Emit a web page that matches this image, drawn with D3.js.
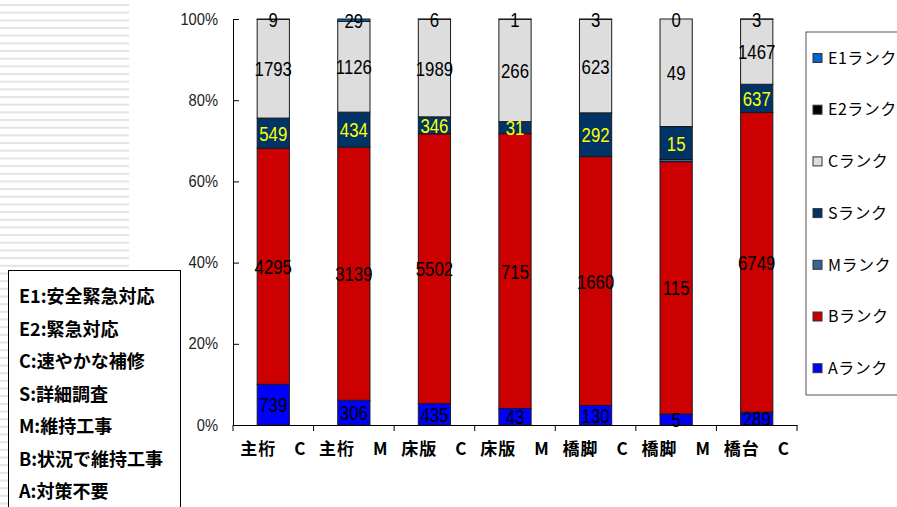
<!DOCTYPE html>
<html>
<head>
<meta charset="utf-8">
<script src="https://cdn.jsdelivr.net/npm/d3@7"></script>
<style>
  html, body { margin: 0; padding: 0; background: #fff; }
  svg { display: block; }
</style>
</head>
<body>
<svg id="chart" width="897" height="507"></svg>
<script>
// Rank counts per member / inspection type
const categories = ["主桁　C", "主桁　M", "床版　C", "床版　M", "橋脚　C", "橋脚　M", "橋台　C"];
const rankA  = [739, 306, 435, 43, 130, 5, 289];
const rankB  = [4295, 3139, 5502, 715, 1660, 115, 6749];
const rankM  = [0, 0, 0, 0, 0, 1, 0];
const rankS  = [549, 434, 346, 31, 292, 15, 637];
const rankC  = [1793, 1126, 1989, 266, 623, 49, 1467];
const rankE2 = [0, 0, 6, 0, 3, 0, 0];
const rankE1 = [9, 29, 0, 1, 0, 0, 3];
const yTicks = [0, 0.2, 0.4, 0.6, 0.8, 1.0];

const seriesKeys   = ["A", "B", "M", "S", "C", "E2", "E1"];
const seriesValues = { A: rankA, B: rankB, M: rankM, S: rankS, C: rankC, E2: rankE2, E1: rankE1 };
const seriesColors = { A: "#0000ff", B: "#cc0000", M: "#336699", S: "#003366", C: "#dddddd", E2: "#000000", E1: "#0066cc" };
const legendOrder  = ["E1", "E2", "C", "S", "M", "B", "A"];
const notes = ["E1:安全緊急対応", "E2:緊急対応", "C:速やかな補修", "S:詳細調査", "M:維持工事", "B:状況で維持工事", "A:対策不要"];

const rows = categories.map((c, i) => {
  const r = { cat: c };
  seriesKeys.forEach(k => r[k] = seriesValues[k][i]);
  return r;
});

const svg = d3.select("#chart");
const numFont = "'Liberation Sans', Arial, sans-serif";
const jpFont = "'Noto Sans CJK JP', sans-serif";

// striped backdrop on the left
const stripes = svg.append("g");
d3.range(4, 507, 7.67).forEach(y => {
  stripes.append("rect").attr("x", 0).attr("y", y).attr("width", 129).attr("height", 2).attr("fill", "#e4e4e4");
});

const plot = { left: 233, right: 797, top: 19, bottom: 425 };

const x = d3.scaleBand().domain(categories).range([plot.left, plot.right]).paddingInner(0.6).paddingOuter(0.3);
const y = d3.scaleLinear().domain([0, 1]).range([plot.bottom, plot.top]);

const stack = d3.stack().keys(seriesKeys).offset(d3.stackOffsetExpand);
const layers = stack(rows);

// bars
const g = svg.append("g");
layers.forEach(layer => {
  g.selectAll(null).data(layer).enter().append("rect")
    .attr("x", d => x(d.data.cat))
    .attr("width", x.bandwidth())
    .attr("y", d => y(d[1]))
    .attr("height", d => Math.max(0, y(d[0]) - y(d[1])))
    .attr("fill", seriesColors[layer.key])
    .attr("stroke", "#1a1a1a")
    .attr("stroke-width", 1);
});

// axes
const yAxis = d3.axisLeft(y).tickValues(yTicks).tickFormat(d3.format(".0%")).tickSizeInner(-6).tickSizeOuter(0).tickPadding(15);
const yg = svg.append("g").attr("transform", `translate(${plot.left},0)`).call(yAxis);
yg.selectAll("text").attr("font-family", numFont).attr("font-size", 16).attr("fill", "#222")
  .attr("transform", "scale(0.92,1)").attr("x", -15 / 0.92);
yg.selectAll("line, path").attr("stroke", "#000");

const xAxis = d3.axisBottom(x).tickSize(0).tickPadding(18);
const xg = svg.append("g").attr("transform", `translate(0,${plot.bottom})`).call(xAxis);
xg.select("path").attr("stroke", "#000");
xg.selectAll("text").attr("font-family", jpFont).attr("font-size", 17).attr("font-weight", "bold")
  .attr("letter-spacing", 1).attr("fill", "#000");
// band boundary ticks
d3.range(0, categories.length + 1).forEach(i => {
  const px = plot.left + i * (plot.right - plot.left) / categories.length;
  xg.append("line").attr("x1", px).attr("x2", px).attr("y1", 0).attr("y2", 6).attr("stroke", "#000");
});

// narrow value label helper
function valueLabel(cx, cy, text, color) {
  g.append("text")
    .attr("transform", `translate(${cx},${cy}) scale(0.8,1)`)
    .attr("dy", "0.36em")
    .attr("text-anchor", "middle")
    .attr("font-family", numFont)
    .attr("font-size", 21)
    .attr("fill", color)
    .text(text);
}

const labelled = { A: "#000", B: "#000", S: "#ffff00", C: "#000" };
layers.forEach(layer => {
  if (!labelled[layer.key]) return;
  layer.forEach(d => {
    valueLabel(x(d.data.cat) + x.bandwidth() / 2, (y(d[0]) + y(d[1])) / 2, d.data[layer.key], labelled[layer.key]);
  });
});
// urgent (E1/E2) label on top of each bar
const layerE1 = layers.find(l => l.key === "E1");
const layerE2 = layers.find(l => l.key === "E2");
rows.forEach((r, i) => {
  const useE2 = r.E2 > 0;
  const seg = useE2 ? layerE2[i] : layerE1[i];
  valueLabel(x(r.cat) + x.bandwidth() / 2, (y(seg[0]) + y(seg[1])) / 2, useE2 ? r.E2 : r.E1, "#000");
});

// series legend (right)
const leg = svg.append("g");
leg.append("rect").attr("x", 806).attr("y", 32).attr("width", 120).attr("height", 363)
  .attr("fill", "#fff").attr("stroke", "#555");
legendOrder.forEach((k, i) => {
  const cy = 58 + i * 51.7;
  leg.append("rect").attr("x", 813).attr("y", cy - 4.5).attr("width", 9).attr("height", 9)
    .attr("fill", seriesColors[k]).attr("stroke", "#333");
  leg.append("text").attr("x", 828).attr("y", cy).attr("dy", "0.36em")
    .attr("font-family", jpFont).attr("font-size", 16).attr("letter-spacing", 0.5).attr("fill", "#000")
    .text(k + "ランク");
});

// rank meaning notes (left box)
const nb = svg.append("g");
nb.append("rect").attr("x", 8.5).attr("y", 270.5).attr("width", 172).attr("height", 250)
  .attr("fill", "#fff").attr("stroke", "#000");
notes.forEach((t, i) => {
  nb.append("text").attr("x", 19).attr("y", 297 + i * 32.5).attr("dy", "0.36em")
    .attr("font-family", jpFont).attr("font-size", 18).attr("font-weight", "bold").attr("fill", "#000")
    .text(t);
});
</script>
</body>
</html>
